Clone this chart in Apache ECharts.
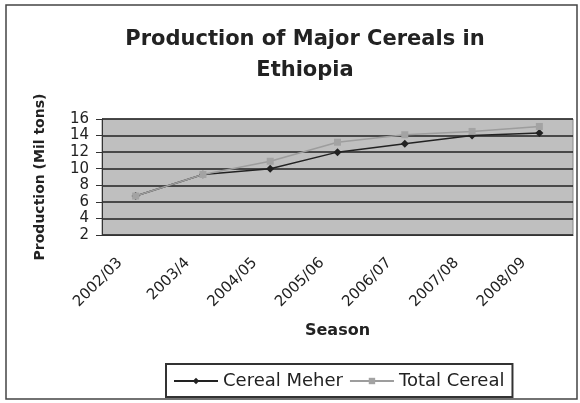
<!DOCTYPE html>
<html><head><meta charset="utf-8">
<script src="https://cdn.jsdelivr.net/npm/echarts@6/dist/echarts.min.js"></script>
<style>html,body{margin:0;padding:0;background:#fff}#c{width:580px;height:403px}</style>
</head><body><div id="c"></div>
<script>
const seasons = ['2002/03','2003/4','2004/05','2005/06','2006/07','2007/08','2008/09'];
const cerealMeher = [6.7, 9.3, 10.0, 12.0, 13.0, 14.0, 14.3];
const totalCereal = [6.7, 9.3, 10.9, 13.2, 14.1, 14.5, 15.1];
const yTicks = {min: 2, max: 16, interval: 2};

const FONT = 'DejaVu Sans, Liberation Sans, Arial, sans-serif';
const chart = echarts.init(document.getElementById('c'), null, {renderer:'canvas'});
chart.setOption({
  animation: false,
  backgroundColor: '#fff',
  textStyle: {fontFamily: FONT},
  title: {
    text: 'Production of Major Cereals in\nEthiopia',
    left: 300, top: 19, textAlign: 'center',
    textStyle: {fontFamily: FONT, fontSize: 21, fontWeight: 'bold', color: '#222', lineHeight: 31}
  },
  graphic: [{
    type: 'rect', shape: {x: 6, y: 5, width: 571, height: 394},
    style: {fill: 'none', stroke: '#444', lineWidth: 1.5}, z: -1
  }],
  grid: {left: 102, right: 7, top: 119, bottom: 168, show: true,
    backgroundColor: '#bfbfbf', borderColor: '#888', borderWidth: 1},
  legend: {
    left: 166, top: 364,
    borderColor: '#333', borderWidth: 2, padding: [8, 8, 7, 7],
    itemWidth: 44, itemHeight: 8, itemGap: 6,
    textStyle: {fontFamily: FONT, fontSize: 18, color: '#222'},
    data: ['Cereal Meher', 'Total Cereal']
  },
  xAxis: {
    type: 'category', data: seasons, boundaryGap: true,
    name: 'Season', nameLocation: 'middle', nameGap: 88,
    nameTextStyle: {fontFamily: FONT, fontSize: 16, fontWeight: 'bold', color: '#222'},
    axisLine: {lineStyle: {color: '#333', width: 1}},
    axisTick: {length: 5, lineStyle: {color: '#333'}},
    axisLabel: {rotate: 45, fontFamily: FONT, fontSize: 15, color: '#222', margin: 10,
      padding: [0, 22, 0, 0], interval: 0}
  },
  yAxis: {
    type: 'value', min: yTicks.min, max: yTicks.max, interval: yTicks.interval,
    name: 'Production (Mil tons)', nameLocation: 'middle', nameGap: 55, nameRotate: 90,
    nameTextStyle: {fontFamily: FONT, fontSize: 14, fontWeight: 'bold', color: '#222'},
    axisLine: {show: true, lineStyle: {color: '#333'}},
    axisTick: {show: true, length: 6, lineStyle: {color: '#333'}},
    axisLabel: {fontFamily: FONT, fontSize: 15, color: '#222', margin: 13},
    splitLine: {lineStyle: {color: '#222', width: 1.5}}
  },
  series: [
    {name: 'Cereal Meher', type: 'line', data: cerealMeher,
     symbol: 'diamond', symbolSize: 8,
     lineStyle: {color: '#222', width: 1.5}, itemStyle: {color: '#222'}, z: 2},
    {name: 'Total Cereal', type: 'line', data: totalCereal,
     symbol: 'rect', symbolSize: 7,
     lineStyle: {color: '#9d9d9d', width: 1.5}, itemStyle: {color: '#a3a3a3'}, z: 3}
  ]
});
</script></body></html>
